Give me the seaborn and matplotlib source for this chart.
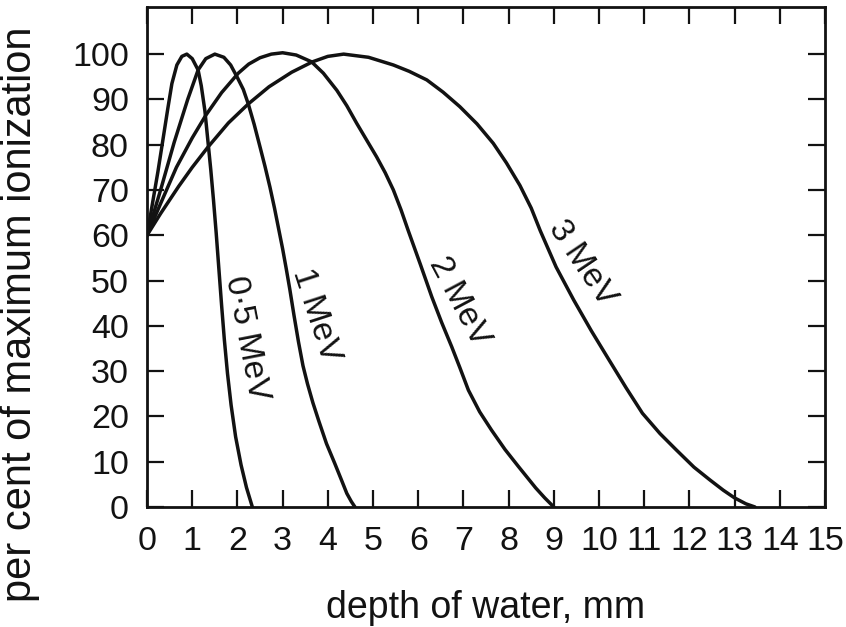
import numpy as np
import pandas as pd
import matplotlib
matplotlib.use("Agg")
import matplotlib.pyplot as plt
import seaborn as sns

# depth (mm) and per cent of maximum ionization
x_05 = [0, 0.12, 0.24, 0.35, 0.46, 0.55, 0.66, 0.77, 0.88, 1.0, 1.13, 1.2, 1.28, 1.35,
        1.41, 1.47, 1.53, 1.59, 1.65, 1.71, 1.78, 1.86, 1.96, 2.08, 2.2, 2.33]
y_05 = [60, 67, 74, 81, 88, 93.5, 97.6, 99.5, 100, 99, 96.5, 93, 87.5, 80.5,
        74.5, 67.8, 60.5, 52.5, 44.5, 37, 29.5, 22.5, 15.5, 9.3, 4.3, 0]

x_1 = [0, 0.3, 0.6, 0.9, 1.13, 1.3, 1.5, 1.7, 1.85, 2.0, 2.13, 2.24, 2.37, 2.5, 2.61,
       2.72, 2.82, 2.92, 3.0, 3.08, 3.16, 3.25, 3.35, 3.45, 3.55, 3.67, 3.8, 3.97,
       4.15, 4.3, 4.42, 4.52, 4.6]
y_1 = [60, 70, 80.5, 90, 96.5, 99, 100, 99.3, 97.6, 94.8, 92.2, 89, 84.5, 79.5, 75.2,
       70.6, 66, 61, 57, 52.6, 48, 42.4, 36.5, 31.2, 27.2, 23, 19, 14,
       9.7, 6, 3, 1.2, 0]

x_2 = [0, 0.3, 0.65, 1.0, 1.3, 1.65, 2.02, 2.25, 2.5, 2.75, 3.0, 3.3, 3.64, 3.9, 4.2,
       4.42, 4.64, 4.86, 5.08, 5.27, 5.45, 5.62, 5.78, 6.05, 6.3, 6.52, 6.74, 6.92,
       7.11, 7.36, 7.62, 7.92, 8.22, 8.6, 8.8, 9.0]
y_2 = [60, 67, 75, 81.5, 86.5, 91.5, 95.8, 97.8, 99.2, 100, 100.3, 99.8, 98.3, 95.8, 92,
       88.6, 84.7, 81, 77.3, 73.8, 70, 65.6, 61, 53.5, 46.4, 40.7, 35.4, 30.8,
       25.8, 21, 17, 12.7, 8.9, 4.2, 2, 0]

x_3 = [0, 0.3, 0.7, 1.0, 1.35, 1.8, 2.24, 2.7, 3.2, 3.66, 4.0, 4.35, 4.9, 5.45, 5.8,
       6.19, 6.55, 6.92, 7.3, 7.66, 7.95, 8.25, 8.5, 8.7, 9.05, 9.44, 9.83, 10.22,
       10.6, 10.96, 11.35, 11.71, 12.1, 12.45, 12.75, 13.0, 13.25, 13.45]
y_3 = [60, 64.8, 70.8, 75, 79.5, 84.8, 89, 92.8, 96, 98.3, 99.5, 100, 99.3, 97.6, 96.2,
       94.3, 91.6, 88.4, 84.6, 80.3, 76, 71, 66, 61, 53, 45.7, 38.9, 32.5,
       26.3, 20.7, 16.2, 12.6, 8.8, 6, 3.7, 2, 0.7, 0]

curve_labels = ["0·5 MeV", "1 MeV", "2 MeV", "3 MeV"]
label_x = [2.2, 3.74, 6.9, 9.63]
label_y = [37.3, 42.4, 45.3, 53.8]
label_rot = [-79, -72, -62, -56]

x_ticks = list(range(0, 16))
y_ticks = list(range(0, 101, 10))

frames = []
for name, xs, ys in zip(curve_labels, [x_05, x_1, x_2, x_3], [y_05, y_1, y_2, y_3]):
    frames.append(pd.DataFrame({"depth": xs, "ion": ys, "energy": name}))
df = pd.concat(frames, ignore_index=True)

sns.set_style("ticks")
plt.rcParams["font.family"] = ["Liberation Sans", "DejaVu Sans"]

ink = "#121212"
fig = plt.figure(figsize=(8.46, 6.27), dpi=100)
ax = fig.add_axes([0.1738, 0.1914, 0.8014, 0.7974])

sns.lineplot(data=df, x="depth", y="ion", units="energy", estimator=None,
             sort=False, color=ink, lw=2.5, ax=ax)

for txt, lx, ly, rot in zip(curve_labels, label_x, label_y, label_rot):
    ax.text(lx, ly, txt, rotation=rot, rotation_mode="anchor", ha="center", va="center",
            fontsize=24, color=ink)

ax.set_xlim(0, 15)
ax.set_ylim(0, 110.4)
ax.set_xticks(x_ticks)
ax.set_yticks(y_ticks)
ax.tick_params(direction="in", length=12, width=1.6, top=True, right=True,
               labelsize=24.5, colors=ink)
ax.tick_params(axis="x", pad=14)
ax.tick_params(axis="y", pad=13)
for s in ax.spines.values():
    s.set_linewidth(2.0)
    s.set_color(ink)

ax.set_xlabel("depth of water, mm", fontsize=27, color=ink)
ax.set_ylabel("per cent of maximum ionization", fontsize=30, color=ink)
ax.xaxis.set_label_coords(0.5, -0.166)
ax.yaxis.set_label_coords(-0.158, 0.386)

fig.savefig("out.png", dpi=100)
